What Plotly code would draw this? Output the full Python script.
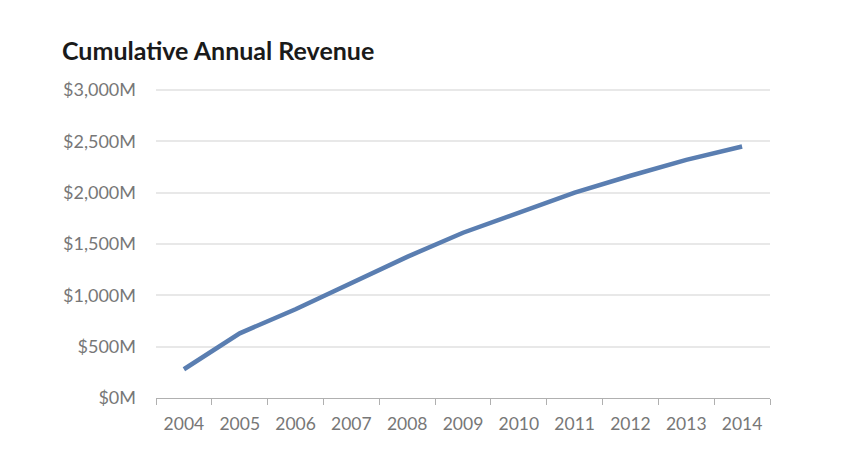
import plotly.graph_objects as go

years = ["2004", "2005", "2006", "2007", "2008", "2009", "2010", "2011", "2012", "2013", "2014"]
revenue = [280, 630, 865, 1120, 1375, 1610, 1810, 2000, 2165, 2320, 2450]
y_ticks = [0, 500, 1000, 1500, 2000, 2500, 3000]
y_labels = ["$0M", "$500M", "$1,000M", "$1,500M", "$2,000M", "$2,500M", "$3,000M"]

# page body adds an 8px margin, so the figure is sized/offset to compensate
fig = go.Figure()
fig.add_trace(go.Scatter(
    x=years, y=revenue, mode="lines",
    line=dict(color="#5a7eb1", width=4.5),
    hoverinfo="skip",
))

fig.update_layout(
    width=839, height=462,
    margin=dict(l=148, r=77, t=81, b=72, autoexpand=False),
    paper_bgcolor="white", plot_bgcolor="white",
    showlegend=False,
    font=dict(family="Lato", color="#777777", size=18),
    title=dict(
        text="<b>Cumulative Annual Revenue</b>",
        x=54/839, xref="container", xanchor="left",
        y=1 - 43/462, yref="container", yanchor="middle",
        font=dict(family="Lato", size=25, color="#1a1a1a"),
    ),
)
fig.update_xaxes(
    type="category",
    range=[-0.5, 10.5],
    tickson="boundaries",
    ticks="outside", ticklen=6, tickcolor="#b0b0b0",
    showline=True, linecolor="#b0b0b0", linewidth=1,
    showgrid=False,
    tickfont=dict(size=17.5, color="#777777"),
    ticklabelstandoff=10,
    automargin=False,
)
fig.update_yaxes(
    range=[0, 3010],
    tickvals=y_ticks, ticktext=y_labels,
    showgrid=True, gridcolor="#e8e8e8", gridwidth=1.5,
    zeroline=False, showline=False,
    tickfont=dict(size=18, color="#777777"),
    ticklabelstandoff=19,
    automargin=False,
)

fig.write_html("out.html")
